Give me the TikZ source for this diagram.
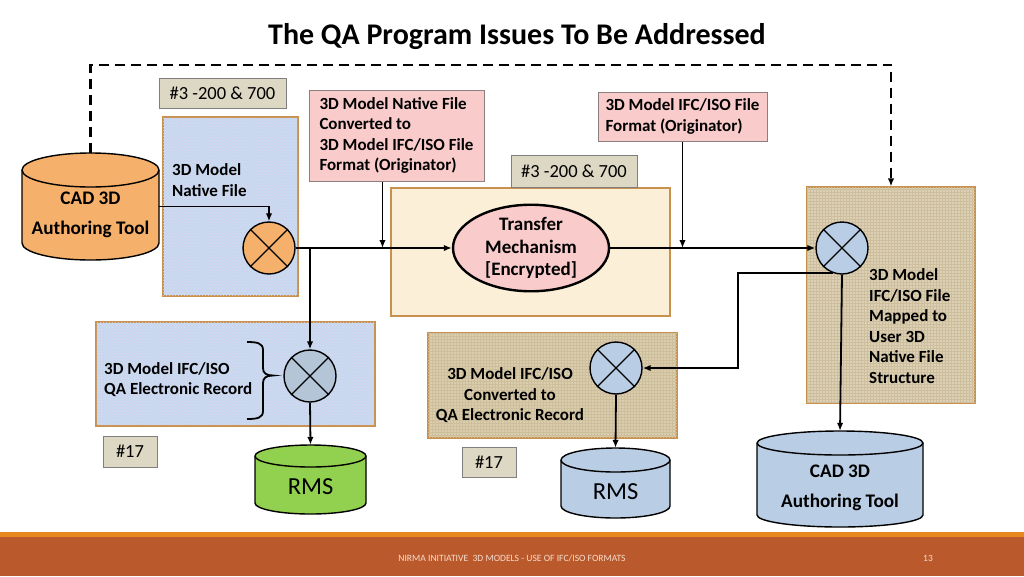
\documentclass[tikz,border=0pt]{standalone}
\usepackage{fontspec}
\setmainfont{Carlito}
\usetikzlibrary{arrows.meta,shapes.geometric,calc,patterns}
\definecolor{boxborder}{HTML}{C8924E}
\definecolor{bluetex}{HTML}{C8DBF0}
\definecolor{bluedots}{HTML}{D9C8E8}
\definecolor{creamtex}{HTML}{FBF0D7}
\definecolor{burlapR}{HTML}{DCD1B8}
\definecolor{burlapM}{HTML}{DACDAE}
\definecolor{burlapLine}{HTML}{CDBE9C}
\definecolor{pinkfill}{HTML}{F9CBCB}
\definecolor{pinkborder}{HTML}{8C7F7F}
\definecolor{hashfill}{HTML}{DDD8C4}
\definecolor{hashborder}{HTML}{7F7F7F}
\definecolor{orangefill}{HTML}{F5B16B}
\definecolor{juncblue}{HTML}{B9CDE5}
\definecolor{juncgrey}{HTML}{B4C5D8}
\definecolor{cylblue}{HTML}{B9CDE5}
\definecolor{rmsgreen}{HTML}{92D050}
\definecolor{footline}{HTML}{E8891F}
\definecolor{footbg}{HTML}{BA5A2C}
\definecolor{foottext}{HTML}{F6DCCD}
\newcommand\mycyl[6]{%
  \filldraw[fill=#6, line width=1.4pt] ({#1-#4},{#2+#5}) -- ({#1-#4},{#3-#5})
    arc[start angle=180,end angle=0,x radius=#4,y radius=#5] -- ({#1+#4},{#2+#5})
    arc[start angle=0,end angle=-180,x radius=#4,y radius=#5] -- cycle;
  \draw[line width=1.4pt] ({#1-#4},{#2+#5}) arc[start angle=180,end angle=0,x radius=#4,y radius=#5];}
\newcommand\junccross[1]{\draw[line width=1.2pt] (#1.north west) -- (#1.south east) (#1.north east) -- (#1.south west);}
\begin{document}
\begin{tikzpicture}[x=1pt,y=-1pt,
  conn/.style={line width=1.8pt},
  arr/.style={conn,-{Latex[length=8pt,width=6.5pt]}},
  lblfont/.style={font=\bfseries\fontsize{17}{20.5}\selectfont},
  lbl/.style={lblfont, align=left, inner sep=0pt},
  texbox/.style={draw=boxborder, line width=1.2pt, inner sep=0pt},
  bluebox/.style={texbox, fill=bluetex, postaction={pattern=crosshatch dots, pattern color=bluedots}},
  burlap/.style={texbox, fill=#1, postaction={pattern=grid, pattern color=burlapLine}},
  hashbox/.style={draw=hashborder, fill=hashfill, line width=1pt, inner sep=0pt,
     font=\fontsize{18.5}{22}\selectfont},
  pinkbox/.style={draw=pinkborder, fill=pinkfill, line width=1pt, lblfont, align=left,
     inner xsep=4pt, inner ysep=0pt},
  junc/.style={circle, draw, line width=1.4pt, minimum size=52pt, inner sep=0pt},
  cylnode/.style={inner sep=0pt},
  cyltext/.style={font=\bfseries\fontsize{19.2}{29.5}\selectfont, align=center, inner sep=0pt},
  rmstext/.style={font=\fontsize{24.5}{28}\selectfont, inner sep=0pt},
]
\useasboundingbox (0,0) rectangle (1024,576);
\fill[white] (0,0) rectangle (1024,576);

% title
\node[font=\bfseries\fontsize{30}{34}\selectfont] (title) at (517,37) {The QA Program Issues To Be Addressed};

% textured boxes
\node[bluebox, minimum width=135, minimum height=179] (nat) at (230.5,206.5) {};
\node[texbox, fill=creamtex, minimum width=279, minimum height=128] (cream) at (530.5,252) {};
\node[burlap=burlapR, minimum width=168, minimum height=216] (rt) at (891,295) {};
\node[bluebox, minimum width=279, minimum height=104] (qa) at (235.5,374) {};
\node[burlap=burlapM, minimum width=249, minimum height=105] (mid) at (552.5,385.5) {};
\draw[boxborder, line width=1.2pt] (nat.north west) rectangle (nat.south east)
  (rt.north west) rectangle (rt.south east) (qa.north west) rectangle (qa.south east)
  (mid.north west) rectangle (mid.south east);

% hash boxes
\node[hashbox, minimum width=127, minimum height=30] (h1) at (222.5,93) {\#3 -200 \& 700};
\node[hashbox, minimum width=126, minimum height=32] (h2) at (574,171) {\#3 -200 \& 700};
\node[hashbox, minimum width=54, minimum height=31] (h3) at (130,451.5) {\#17};
\node[hashbox, minimum width=54, minimum height=30] (h4) at (489,462) {\#17};

% pink boxes
\node[pinkbox, minimum width=175, minimum height=91] (p1) at (396.5,135.5)
  {3D Model Native File\\Converted to\\3D Model IFC/ISO File\\Format (Originator)};
\node[pinkbox, minimum width=169, minimum height=49] (p2) at (682.5,116.5)
  {3D Model IFC/ISO File\\Format (Originator)};

% labels inside textured boxes
\node[lbl, anchor=west] (natT) at (172,180) {3D Model\\Native File};
\node[lbl, anchor=west] (rtT) at (869,326) {3D Model\\IFC/ISO File\\Mapped to\\User 3D\\Native File\\Structure};
\node[lbl, anchor=west] (qaT) at (104,379.5) {3D Model IFC/ISO\\QA Electronic Record};
\node[lbl, align=center] (midT) at (510,395.5) {3D Model IFC/ISO\\Converted to\\QA Electronic Record};

% transfer mechanism
\node[ellipse, draw, line width=2.4pt, fill=pinkfill, minimum width=156, minimum height=82,
  inner sep=0pt, font=\bfseries\fontsize{19}{22.5}\selectfont, align=center] (tm) at (531,248)
  {Transfer\\Mechanism\\{[Encrypted]}};

% cylinders
\mycyl{90.5}{153}{260}{68.5}{17}{orangefill}
\node[cylnode, minimum width=137, minimum height=107] (cadL) at (90.5,206.5) {};
\node[cyltext] (cadLT) at (90.5,215) {CAD 3D\\Authoring Tool};

\mycyl{310.5}{445}{514}{55.5}{11}{rmsgreen}
\node[cylnode, minimum width=111, minimum height=69] (rmsG) at (310.5,479.5) {};
\node[rmstext] (rmsGT) at (310.5,487) {RMS};

\mycyl{615.5}{448}{518}{54.5}{12}{cylblue}
\node[cylnode, minimum width=109, minimum height=70] (rmsB) at (615.5,483) {};
\node[rmstext] (rmsBT) at (615.5,492) {RMS};

\mycyl{840}{431}{527}{83}{12}{cylblue}
\node[cylnode, minimum width=166, minimum height=96] (cadR) at (840,479) {};
\node[cyltext] (cadRT) at (840,488) {CAD 3D\\Authoring Tool};

% junctions
\node[junc, fill=orangefill] (lj) at (269,248) {};
\node[junc, fill=juncblue] (rj) at (842,248) {};
\node[junc, fill=juncgrey] (llj) at (310,376) {};
\node[junc, fill=juncblue] (mj) at (616,368) {};
\junccross{lj}\junccross{rj}\junccross{llj}\junccross{mj}

% brace
\draw[line width=1.8pt] (247,342) .. controls (257,342) and (263,343) .. (263,350) -- (263,368)
  .. controls (263,373) and (266,375.5) .. (273,375.5)
  .. controls (266,375.5) and (263,378) .. (263,383) -- (263,411)
  .. controls (263,418) and (257,419) .. (247,419);

% connectors
\draw[arr] (cadL.east) -| (lj.north);
\draw[arr] (lj.east) -- (tm.west);
\coordinate (br) at (lj.east -| llj.north);
\draw[arr] (br) -- (llj.north);
\coordinate (p1a) at ([xshift=-14pt]p1.south);
\draw[arr] (p1a) -- (p1a |- lj.east);
\draw[arr] (p2.south) -- (p2.south |- rj.west);
\draw[arr] (tm.east) -- (rj.west);
\draw[arr] (rj.south) -- (cadR.north);
\draw[arr] (rj.250) -- ++(-95,0) |- (mj.east);
\draw[arr] (llj.south) -- (rmsG.north);
\draw[arr] (mj.south) -- (rmsB.north);
\draw[line width=2.4pt, dash pattern=on 10pt off 6pt, -{Latex[length=8pt,width=6.5pt]}]
  (cadL.north) -- ++(0,-88) -| (rt.north);

% footer
\fill[footline] (0,532) rectangle (1024,537);
\fill[footbg] (0,537) rectangle (1024,576);
\node[font=\fontsize{9.6}{11}\selectfont, text=foottext] (ft) at (512,558) {NIRMA INITIATIVE\ \ 3D MODELS - USE OF IFC/ISO FORMATS};
\node[font=\fontsize{9.5}{11}\selectfont, text=foottext] (pg) at (928,558) {13};
\end{tikzpicture}
\end{document}
